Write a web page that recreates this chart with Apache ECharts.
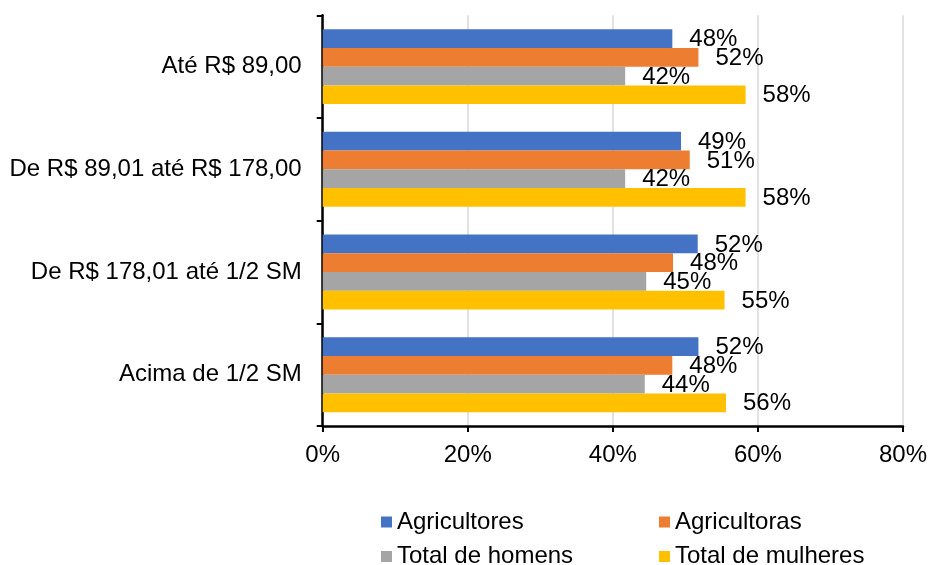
<!DOCTYPE html>
<html>
<head>
<meta charset="utf-8">
<style>
  html, body { margin: 0; padding: 0; background: #ffffff; }
  #chart { width: 930px; height: 565px; }
</style>
<script src="https://cdn.jsdelivr.net/npm/echarts@6/dist/echarts.min.js"></script>
</head>
<body>
<div id="chart"></div>
<script>
// Income brackets (top to bottom)
const categories = [
  'Até R$ 89,00',
  'De R$ 89,01 até R$ 178,00',
  'De R$ 178,01 até 1/2 SM',
  'Acima de 1/2 SM'
];

// Share of each group per bracket (%)
const agricultores   = [48.2, 49.4, 51.7, 51.8];
const agricultoras   = [51.8, 50.6, 48.3, 48.2];
const totalHomens    = [41.7, 41.7, 44.6, 44.4];
const totalMulheres  = [58.3, 58.3, 55.4, 55.6];

const seriesNames = ['Agricultores', 'Agricultoras', 'Total de homens', 'Total de mulheres'];
const seriesValues = [agricultores, agricultoras, totalHomens, totalMulheres];
const seriesColors = ['#4472C4', '#ED7D31', '#A5A5A5', '#FFC000'];

const xTicks = { min: 0, max: 80, step: 20 };

const FONT = '"Liberation Sans", Arial, sans-serif';
const FS = 24;

const chart = echarts.init(document.getElementById('chart'), null, { renderer: 'canvas' });

const series = seriesNames.map((name, i) => ({
  name: name,
  type: 'bar',
  data: seriesValues[i],
  barGap: '0%',
  barCategoryGap: '27%',
  itemStyle: { color: seriesColors[i] },
  label: {
    show: true,
    position: 'right',
    distance: 17,
    offset: [0, 1],
    color: '#000',
    fontFamily: FONT,
    fontSize: FS,
    formatter: p => Math.round(p.value) + '%'
  },
  z: 3
}));

const legendPos = [
  { left: 381, top: 510 },
  { left: 659, top: 510 },
  { left: 381, top: 544.5 },
  { left: 659, top: 544.5 }
];

const legends = seriesNames.map((name, i) => ({
  data: [name],
  left: legendPos[i].left,
  top: legendPos[i].top,
  orient: 'horizontal',
  padding: 0,
  icon: 'rect',
  itemWidth: 11,
  itemHeight: 11,
  selectedMode: false,
  textStyle: { color: '#000', fontFamily: FONT, fontSize: FS, lineHeight: 24 }
}));

chart.setOption({
  animation: false,
  backgroundColor: '#ffffff',
  grid: { left: 322.7, right: 25, top: 15.3, bottom: 139, containLabel: false },
  legend: legends,
  xAxis: {
    type: 'value',
    min: xTicks.min,
    max: xTicks.max,
    interval: xTicks.step,
    axisLine: { show: true, lineStyle: { color: '#000', width: 2.5 } },
    axisTick: { show: true, length: 6, lineStyle: { color: '#000', width: 2 } },
    axisLabel: {
      color: '#000', fontFamily: FONT, fontSize: FS, margin: 17,
      formatter: v => v + '%'
    },
    splitLine: { show: true, lineStyle: { color: '#D9D9D9', width: 1.5 } }
  },
  yAxis: {
    type: 'category',
    data: categories,
    inverse: true,
    axisLine: { show: true, lineStyle: { color: '#000', width: 2.5 } },
    axisTick: { show: true, length: 6, lineStyle: { color: '#000', width: 2 } },
    axisLabel: { color: '#000', fontFamily: FONT, fontSize: FS, margin: 21 },
    splitLine: { show: false }
  },
  series: series
});
</script>
</body>
</html>
